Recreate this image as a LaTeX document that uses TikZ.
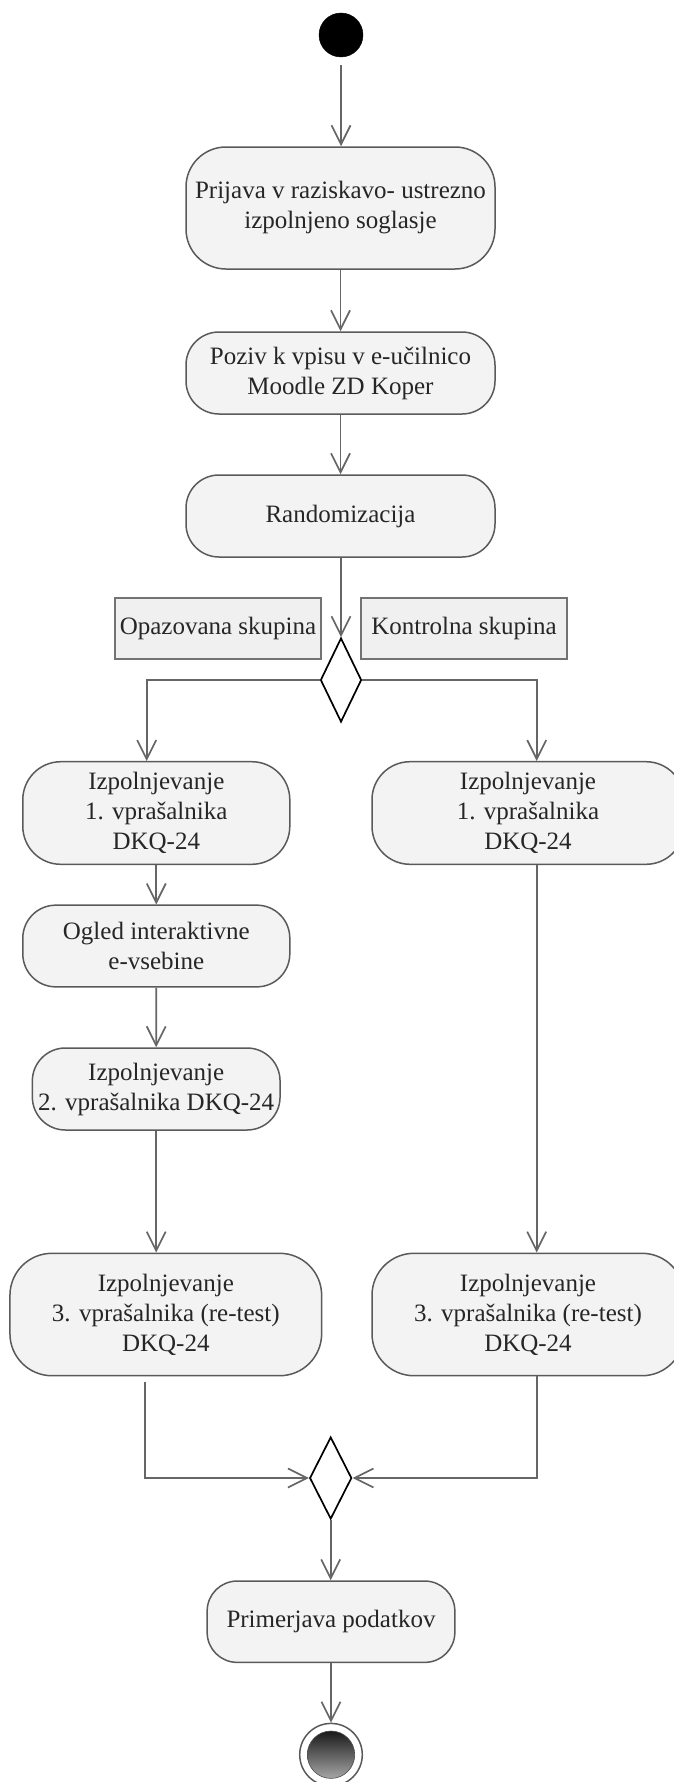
\documentclass[tikz,border=0pt]{standalone}
\usepackage{fontspec}
\setmainfont{Liberation Serif}
\usetikzlibrary{arrows.meta,shapes.geometric,calc}
\definecolor{boxfill}{HTML}{F3F3F3}
\definecolor{labfill}{HTML}{F0F0F0}
\definecolor{boxline}{HTML}{5A5A5A}
\definecolor{arrline}{HTML}{666666}
\definecolor{txt}{HTML}{262626}
\begin{document}
\begin{tikzpicture}[x=1pt,y=-1pt,
  txtfont/.style={font=\fontsize{25pt}{30pt}\selectfont, text=txt},
  act/.style={rectangle, draw=boxline, fill=boxfill, line width=1.5pt,
    rounded corners=#1, align=center, inner sep=0pt, txtfont},
  act/.default=33pt,
  lab/.style={rectangle, draw=boxline!85, fill=labfill, line width=1.5pt,
    align=center, inner sep=0pt, txtfont},
  dec/.style={diamond, draw=black, fill=white, line width=1.7pt, inner sep=0pt},
  flow/.style={draw=arrline, line width=1.7pt,
    -{Straight Barb[length=19pt,width=19pt]}},
]
\fill[white] (0,0) rectangle (673,1782);
\useasboundingbox (0,0) rectangle (673,1782);

% start
\node[circle, fill=black, draw=black, minimum size=44pt, inner sep=0pt] (S) at (341,35) {};

% main column
\node[act=40pt, minimum width=309pt, minimum height=122pt] (B1) at (340.5,208)
  {Prijava v raziskavo- ustrezno\\izpolnjeno soglasje};
\node[act, minimum width=309pt, minimum height=82pt] (B2) at (340.5,373)
  {Poziv k vpisu v e-učilnico\\Moodle ZD Koper};
\node[act, minimum width=309pt, minimum height=82pt] (B3) at (340.5,516)
  {Randomizacija};

% labels
\node[lab, minimum width=206pt, minimum height=61pt] (LA) at (218,628.5) {Opazovana skupina};
\node[lab, minimum width=206pt, minimum height=61pt] (LB) at (464,628.5) {Kontrolna skupina};

% decision
\node[dec, minimum width=41pt, minimum height=84pt] (D1) at (341,680) {};

% left branch
\node[act=38pt, minimum width=267pt, minimum height=102.6pt] (L1) at (156.3,813)
  {Izpolnjevanje\\1. vprašalnika\\DKQ-24};
\node[act, minimum width=267pt, minimum height=81.7pt] (OG) at (156.3,946)
  {Ogled interaktivne\\e-vsebine};
\node[act, minimum width=247.7pt, minimum height=82pt] (L2) at (156.2,1089)
  {Izpolnjevanje\\2. vprašalnika DKQ-24};
\node[act=42pt, minimum width=311.7pt, minimum height=122.4pt] (L3) at (165.8,1314.5)
  {Izpolnjevanje\\3. vprašalnika (re-test)\\DKQ-24};

% right branch
\node[act=38pt, minimum width=312pt, minimum height=102.6pt] (R1) at (528,813)
  {Izpolnjevanje\\1. vprašalnika\\DKQ-24};
\node[act=42pt, minimum width=312pt, minimum height=122.4pt] (R3) at (528,1314.5)
  {Izpolnjevanje\\3. vprašalnika (re-test)\\DKQ-24};

% merge
\node[dec, minimum width=42pt, minimum height=82pt] (D2) at (330.7,1478) {};

\node[act=30pt, minimum width=247.7pt, minimum height=81.3pt] (P) at (331,1621.7)
  {Primerjava podatkov};

% end
\node[circle, draw=boxline, fill=white, line width=1.5pt, minimum size=62.6pt, inner sep=0pt] (E) at (331,1754.7) {};
\node[circle, draw=black!70, top color=black!90, bottom color=black!35, line width=0.6pt,
  minimum size=47.4pt, inner sep=0pt] (EI) at (E.center) {};

% connectors
\draw[flow, shorten <=8pt] (S.south) -- (S.south |- B1.north);
\draw[flow] (B1.south) -- (B2.north);
\draw[flow] (B2.south) -- (B3.north);
\draw[flow] (B3.south -| D1.north) -- (D1.north);
\draw[flow] (D1.west) -| ([xshift=-9.6pt]L1.north);
\draw[flow] (D1.east) -| ([xshift=8.7pt]R1.north);
\draw[flow] (L1.south) -- (OG.north);
\draw[flow] (OG.south) -- (L2.north);
\draw[flow] (L2.south) -- (L2.south |- L3.north);
\draw[flow] ([xshift=8.7pt]R1.south) -- ([xshift=8.7pt]R3.north);
\draw[flow, shorten <=6pt] ([xshift=-20.8pt]L3.south) |- (D2.west);
\draw[flow] ([xshift=8.7pt]R3.south) |- (D2.east);
\draw[flow] (D2.south) -- (D2.south |- P.north);
\draw[flow] (P.south -| E.north) -- (E.north);
\end{tikzpicture}
\end{document}
